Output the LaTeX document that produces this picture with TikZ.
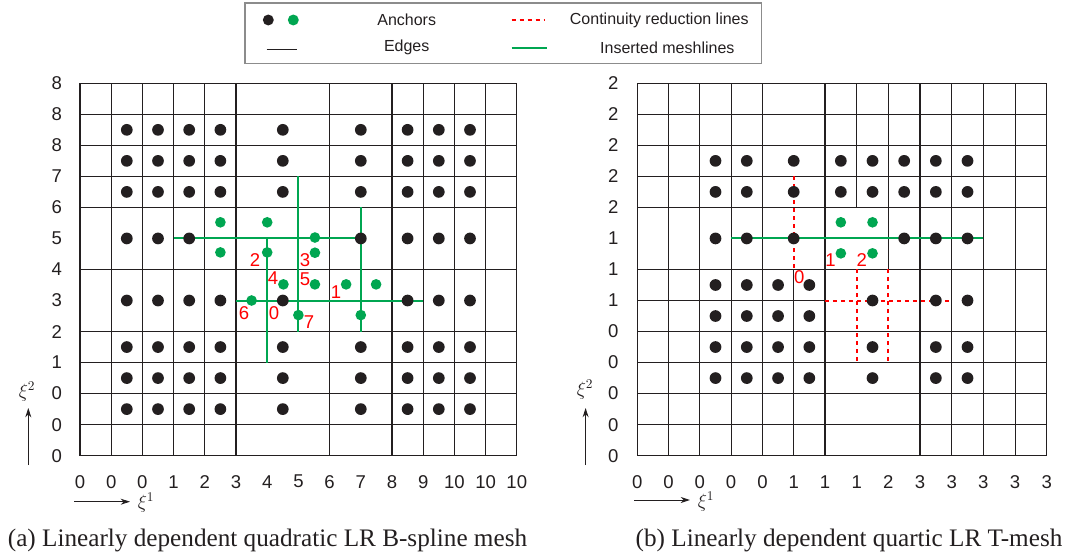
\documentclass[tikz,border=0pt]{standalone}
\usepackage{fontspec}
\setmainfont{Liberation Serif}
\newfontfamily\arial{Liberation Sans}
\usetikzlibrary{arrows.meta}
\definecolor{ink}{HTML}{231F20}
\definecolor{mgreen}{HTML}{00A651}
\definecolor{mred}{HTML}{FF0000}
\definecolor{boxgray}{HTML}{8C8C8C}
\pgfmathdeclarefunction{lgx}{1}{\pgfmathparse{80+31.2*#1}}
\pgfmathdeclarefunction{rgx}{1}{\pgfmathparse{(#1<6.001)*(637.3+31.28*#1)+(#1>6.001)*(825+31.67*(#1-6))}}
\pgfmathdeclarefunction{gry}{1}{\pgfmathparse{83.3+31.03*#1}}
\tikzset{
  meshedge/.style={draw=ink, line width=0.8pt},
  insline/.style={draw=mgreen, line width=1.5pt},
  crline/.style={draw=mred, line width=1.5pt, dash pattern=on 3pt off 3pt},
  bdot/.style={fill=ink},
  gdot/.style={fill=mgreen},
  ticklab/.style={font=\arial\fontsize{13.9}{14}\selectfont, inner sep=0pt, text=ink},
  redlab/.style={font=\arial\fontsize{13.9}{14}\selectfont, inner sep=0pt, text=mred},
  legtext/.style={font=\arial\fontsize{12}{13}\selectfont, inner sep=0pt, text=ink},
  captext/.style={font=\fontsize{18.9}{20}\selectfont, inner sep=0pt, anchor=base, text=ink},
  axarrow/.style={draw=ink, line width=0.7pt, -{Stealth[length=7pt,width=4.5pt]}},
  axlab/.style={font=\fontsize{14}{14}\selectfont, inner sep=0pt, text=ink},
}
\begin{document}
\begin{tikzpicture}[x=0.75pt,y=-0.75pt]
\useasboundingbox (0,0) rectangle (1067,559);

% ---------------- legend ----------------
\draw[draw=boxgray, line width=1.1pt] (245,3) rectangle (761.7,63.3);
\fill[bdot] (268.3,20) circle (4.1pt);
\fill[gdot] (293.3,20) circle (4.1pt);
\node[legtext] (lgA) at (406.7,20) {Anchors};
\coordinate (e1) at (266.7,49);
\coordinate (e2) at (297.3,49);
\draw[meshedge, line width=0.7pt] (e1) -- (e2);
\node[legtext] (lgE) at (406.7,47) {Edges};
\coordinate (c1) at (511.7,20);
\coordinate (c2) at (545,20);
\draw[crline, line width=1.3pt] (c1) -- (c2);
\node[legtext] (lgC) at (659.3,20) {Continuity reduction lines};
\coordinate (m1) at (511.7,48);
\coordinate (m2) at (547,48);
\draw[insline] (m1) -- (m2);
\node[legtext] (lgM) at (667.3,48) {Inserted meshlines};

% ---------------- left mesh ----------------
\foreach \i in {0,1,2,3,4,5,8,10,11,12,13,14}
  \draw[meshedge] ({lgx(\i)},{gry(0)}) -- ({lgx(\i)},{gry(12)});
\foreach \j in {0,1,2,3,4,6,8,9,10,11,12}
  \draw[meshedge] ({lgx(0)},{gry(\j)}) -- ({lgx(14)},{gry(\j)});
% inserted meshlines
\draw[insline] ({lgx(6)},{gry(5)}) -- ({lgx(6)},{gry(9)});
\draw[insline] ({lgx(7)},{gry(3)}) -- ({lgx(7)},{gry(8)});
\draw[insline] ({lgx(9)},{gry(4)}) -- ({lgx(9)},{gry(8)});
\draw[insline] ({lgx(3)},{gry(5)}) -- ({lgx(9)},{gry(5)});
\draw[insline] ({lgx(5)},{gry(7)}) -- ({lgx(11)},{gry(7)});
% anchors
\foreach \y in {1.5,2.5,3.5,8.5,9.5,10.5}
  \foreach \x in {1.5,2.5,3.5,4.5,6.5,9,10.5,11.5,12.5}
    \fill[bdot] ({lgx(\x)},{gry(\y)}) circle (4.4pt);
\foreach \x in {1.5,2.5,3.5,9,10.5,11.5,12.5}
  \fill[bdot] ({lgx(\x)},{gry(5)}) circle (4.4pt);
\foreach \x in {1.5,2.5,3.5,4.5,6.5,10.5,11.5,12.5}
  \fill[bdot] ({lgx(\x)},{gry(7)}) circle (4.4pt);
\foreach \x/\y in {4.5/4.48,4.5/5.45,6/4.48,6/5.45,7.53/4.97,7.53/5.46,6.52/6.48,7.53/6.48,8.53/6.48,9.49/6.48,5.5/7,7/7.47,9/7.47}
  \fill[gdot] ({lgx(\x)},{gry(\y)}) circle (4pt);
% red numbers
\node[redlab] (la2) at (255,260) {2};
\node[redlab] (la3) at (305,260) {3};
\node[redlab] (la4) at (273,278) {4};
\node[redlab] (la5) at (305,279) {5};
\node[redlab] (la1) at (336,292) {1};
\node[redlab] (la6) at (244,313) {6};
\node[redlab] (la0) at (274,313) {0};
\node[redlab] (la7) at (309,322) {7};
% tick labels
\foreach \i/\t in {0/0,1/0,2/0,3/1,4/2,5/3,6/4,7/5,8/6,9/7,10/8,11/9,12/10,13/10,14/10}
  \node[ticklab] (lxt\i) at ({lgx(\i)},481.7) {\t};
\foreach \j/\t in {0/8,1/8,2/8,3/7,4/6,5/5,6/4,7/3,8/2,9/1,10/0,11/0,12/0}
  \node[ticklab] (lyt\j) at (56.7,{gry(\j)}) {\t};
% axes
\coordinate (lay0) at (28.3,465);
\coordinate (lay1) at (28.3,408);
\draw[axarrow] (lay0) -- (lay1);
\node[axlab] (lxi2) at (27,392) {$\xi^2$};
\coordinate (lax0) at (74,501.7);
\coordinate (lax1) at (130,501.7);
\draw[axarrow] (lax0) -- (lax1);
\node[axlab] (lxi1) at (146,503) {$\xi^1$};
\node[captext] (capa) at (267.5,546) {(a) Linearly dependent quadratic LR B-spline mesh};

% ---------------- right mesh ----------------
\foreach \i in {0,1,2,3,4,6,9,10,11,12,13}
  \draw[meshedge] ({rgx(\i)},{gry(0)}) -- ({rgx(\i)},{gry(12)});
\draw[meshedge] ({rgx(5)},{gry(6)}) -- ({rgx(5)},{gry(12)});
\draw[meshedge] ({rgx(7)},{gry(0)}) -- ({rgx(7)},{gry(4)});
\draw[meshedge] ({rgx(8)},{gry(0)}) -- ({rgx(8)},{gry(6)});
\foreach \j in {0,1,2,3,4,6,8,9,10,11,12}
  \draw[meshedge] ({rgx(0)},{gry(\j)}) -- ({rgx(13)},{gry(\j)});
\draw[meshedge] ({rgx(0)},{gry(7)}) -- ({rgx(6)},{gry(7)});
% continuity reduction lines
\draw[crline] ({rgx(5)},{gry(3)}) -- ({rgx(5)},{gry(6)});
\draw[crline] ({rgx(6)},{gry(7)}) -- ({rgx(10)},{gry(7)});
\draw[crline] ({rgx(7)},{gry(6)}) -- ({rgx(7)},{gry(9)});
\draw[crline] ({rgx(8)},{gry(6)}) -- ({rgx(8)},{gry(9)});
% inserted meshline
\draw[insline] ({rgx(3)},{gry(5)}) -- ({rgx(11)},{gry(5)});
% anchors
\foreach \y in {2.5,3.5}
  \foreach \x in {2.5,3.5,5,6.5,7.5,8.5,9.5,10.5}
    \fill[bdot] ({rgx(\x)},{gry(\y)}) circle (4.4pt);
\foreach \x in {2.5,3.5,5,8.5,9.5,10.5}
  \fill[bdot] ({rgx(\x)},{gry(5)}) circle (4.4pt);
\foreach \y in {6.5,7.5,8.5,9.5}
  \foreach \x in {2.5,3.5,4.5,5.5}
    \fill[bdot] ({rgx(\x)},{gry(\y)}) circle (4.4pt);
\foreach \y in {7,8.5,9.5}
  \foreach \x in {7.5,9.5,10.5}
    \fill[bdot] ({rgx(\x)},{gry(\y)}) circle (4.4pt);
\foreach \x/\y in {6.5/4.48,7.5/4.48,6.5/5.48,7.5/5.48}
  \fill[gdot] ({rgx(\x)},{gry(\y)}) circle (4pt);
% red numbers
\node[redlab] (rb0) at (799.3,277.3) {0};
\node[redlab] (rb1) at (830.5,260) {1};
\node[redlab] (rb2) at (861.7,260) {2};
% tick labels
\foreach \i/\t in {0/0,1/0,2/0,3/0,4/0,5/1,6/1,7/1,8/2,9/3,10/3,11/3,12/3,13/3}
  \node[ticklab] (rxt\i) at ({rgx(\i)},481.7) {\t};
\foreach \j/\t in {0/2,1/2,2/2,3/2,4/2,5/1,6/1,7/1,8/0,9/0,10/0,11/0,12/0}
  \node[ticklab] (ryt\j) at (613.3,{gry(\j)}) {\t};
% axes
\coordinate (ray0) at (585.6,465);
\coordinate (ray1) at (585.6,408);
\draw[axarrow] (ray0) -- (ray1);
\node[axlab] (rxi2) at (585,390) {$\xi^2$};
\coordinate (rax0) at (634,500);
\coordinate (rax1) at (690,500);
\draw[axarrow] (rax0) -- (rax1);
\node[axlab] (rxi1) at (706,502) {$\xi^1$};
\node[captext] (capb) at (849,546) {(b) Linearly dependent quartic LR T-mesh};
\end{tikzpicture}
\end{document}
